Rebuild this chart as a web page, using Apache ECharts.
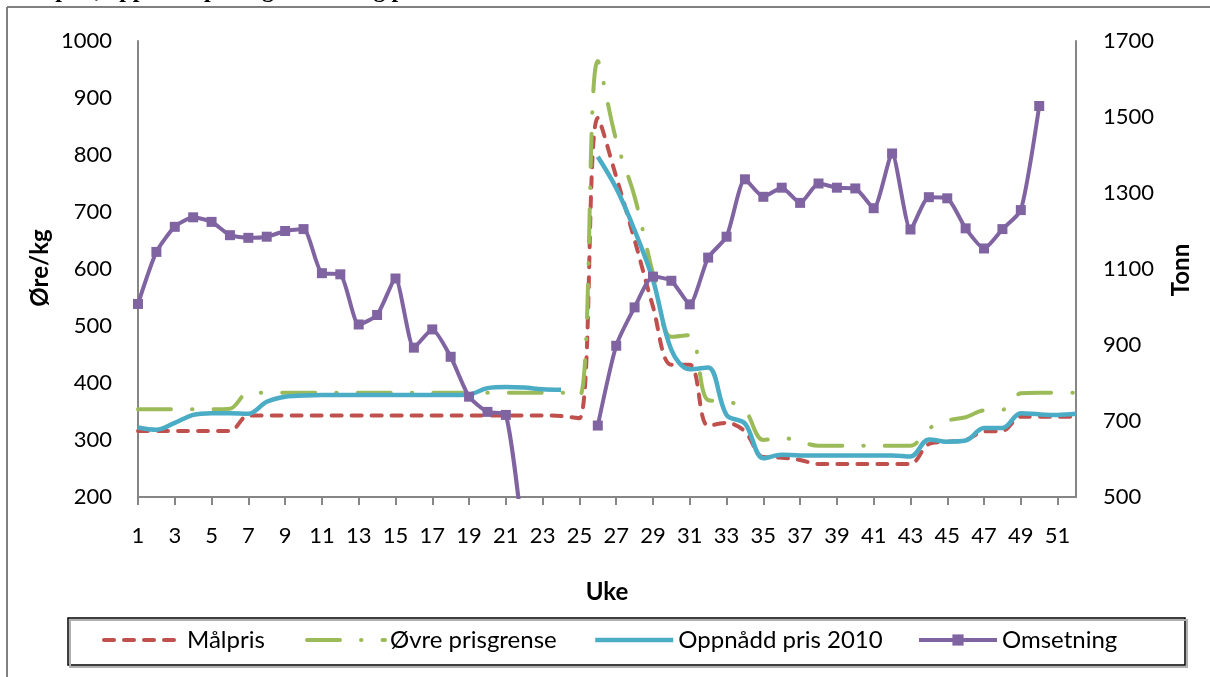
<!DOCTYPE html>
<html><head><meta charset="utf-8">
<script src="https://cdn.jsdelivr.net/npm/echarts@6/dist/echarts.min.js"></script>
<style>html,body{margin:0;padding:0;background:#fff;}#c{width:1210px;height:677px;}</style>
</head><body><div id="c"></div>
<script>
const weeks = ['1','2','3','4','5','6','7','8','9','10','11','12','13','14','15','16','17','18','19','20','21','22','23','24','25','26','27','28','29','30','31','32','33','34','35','36','37','38','39','40','41','42','43','44','45','46','47','48','49','50','51','52'];
const malpris = [316,316,316,316,316,316,343,343,343,343,343,343,343,343,343,343,343,343,343,343,343,343,343,342,338,865,762,651,534,432,432,325,330,315,270,269,265,258,258,258,258,258,258,293,297,300,315,316,341,341,341,341];
const ovrePrisgrense = [354,354,354,354,354,355,383,383,383,383,383,383,383,383,383,383,383,383,383,383,383,383,383,383,376,965,826,727,592,481,484,370,368,352,300,304,297,290,290,290,290,290,290,320,334,340,352,353,382,383,383,383];
const oppnaddPris = [322,318,330,344,347,347,346,367,376,378,379,379,379,379,379,379,379,379,380,391,393,392,389,388,null,797,742,668,581,458,424,427,344,329,268,274,273,273,273,273,273,273,271,301,297,299,321,321,347,345,344,346];
const omsetning = [1008,1145,1211,1236,1224,1189,1182,1185,1200,1205,1089,1086,954,979,1075,893,941,869,764,724,716,360,null,null,null,688,898,999,1080,1069,1007,1130,1185,1336,1290,1314,1274,1325,1314,1312,1260,1404,1204,1289,1286,1207,1154,1205,1255,1529,null,null];
const seriesNames = ['Målpris','Øvre prisgrense','Oppnådd pris 2010','Omsetning'];

const FONT = 'Lato';
const chart = echarts.init(document.getElementById('c'), null, {renderer:'canvas'});
const axisLine = {show:true, lineStyle:{color:'#868686', width:2}};
const legendBase = {top:628, itemWidth:78, itemHeight:14, padding:0, textStyle:{fontSize:24, fontFamily:FONT, color:'#000'}};
const noMarker = {itemStyle:{opacity:0, borderWidth:0}};
const plain = v => String(v);
chart.setOption({
  animation:false,
  backgroundColor:'#fff',
  grid:{left:138, right:134, top:41, bottom:180, containLabel:false},
  legend:[
    Object.assign({data:[seriesNames[0]], left:102, lineStyle:{width:4}}, legendBase, noMarker),
    Object.assign({data:[seriesNames[1]], left:305, lineStyle:{width:4}}, legendBase, noMarker),
    Object.assign({data:[seriesNames[2]], left:593, lineStyle:{width:4.5}}, legendBase, noMarker),
    Object.assign({data:[seriesNames[3]], left:917, lineStyle:{width:4}}, legendBase)
  ],
  xAxis:{type:'category', data:weeks, boundaryGap:false,
    axisLine:axisLine, axisTick:{show:true, interval:1, length:8, lineStyle:{color:'#868686', width:2}},
    axisLabel:{interval:1, margin:28, fontSize:22, fontFamily:FONT, color:'#000'},
    splitLine:{show:false}},
  yAxis:[
    {type:'value', min:200, max:1000, interval:100, position:'left',
      axisLine:axisLine, axisTick:{show:false}, splitLine:{show:false},
      axisLabel:{margin:26, fontSize:22, fontFamily:FONT, color:'#000', formatter:plain}},
    {type:'value', min:500, max:1700, interval:200, position:'right',
      axisLine:axisLine, axisTick:{show:false}, splitLine:{show:false},
      axisLabel:{margin:27, fontSize:22, fontFamily:FONT, color:'#000', formatter:plain}}
  ],
  graphic:[
    {type:'line', shape:{x1:7, y1:7, x2:7, y2:680}, style:{stroke:'#808080', lineWidth:2}},
    {type:'line', shape:{x1:7, y1:7, x2:1215, y2:7}, style:{stroke:'#808080', lineWidth:2}},
    {type:'text', left:14, top:-21, style:{text:'Målpris, oppnådd pris og omsetning per uke', font:'bold 24px "Liberation Serif"', fill:'#000'}},
    {type:'rect', shape:{x:70, y:620, width:1117, height:47}, style:{fill:'none', stroke:'#b0b0b0', lineWidth:2}},
    {type:'rect', shape:{x:68, y:618, width:1117, height:47}, style:{fill:'#fff', stroke:'#000', lineWidth:1.5}, z:-1},
    {type:'text', x:40, y:268, rotation:Math.PI/2, style:{text:'Øre/kg', font:'bold 24px '+FONT, fill:'#000', align:'center', verticalAlign:'middle'}},
    {type:'text', x:1181, y:270, rotation:Math.PI/2, style:{text:'Tonn', font:'bold 24px '+FONT, fill:'#000', align:'center', verticalAlign:'middle'}},
    {type:'text', x:607, y:592, style:{text:'Uke', font:'bold 24px '+FONT, fill:'#000', align:'center', verticalAlign:'middle'}}
  ],
  series:[
    {name:seriesNames[0], type:'line', yAxisIndex:0, data:malpris, smooth:0.35, symbol:'none',
      lineStyle:{color:'#C0504D', width:4, type:[10,10], cap:'round'}, itemStyle:{color:'#C0504D'}},
    {name:seriesNames[1], type:'line', yAxisIndex:0, data:ovrePrisgrense, smooth:0.35, symbol:'none',
      lineStyle:{color:'#9BBB59', width:4, type:[33,21,0.5,21], cap:'round'}, itemStyle:{color:'#9BBB59'}},
    {name:seriesNames[2], type:'line', yAxisIndex:0, data:oppnaddPris, smooth:0.35, symbol:'none',
      lineStyle:{color:'#4BACC6', width:4.5}, itemStyle:{color:'#4BACC6'}},
    {name:seriesNames[3], type:'line', yAxisIndex:1, data:omsetning, smooth:0.2, symbol:'rect', symbolSize:10, showSymbol:true,
      lineStyle:{color:'#8064A2', width:4}, itemStyle:{color:'#8064A2'}}
  ]
});
</script></body></html>
